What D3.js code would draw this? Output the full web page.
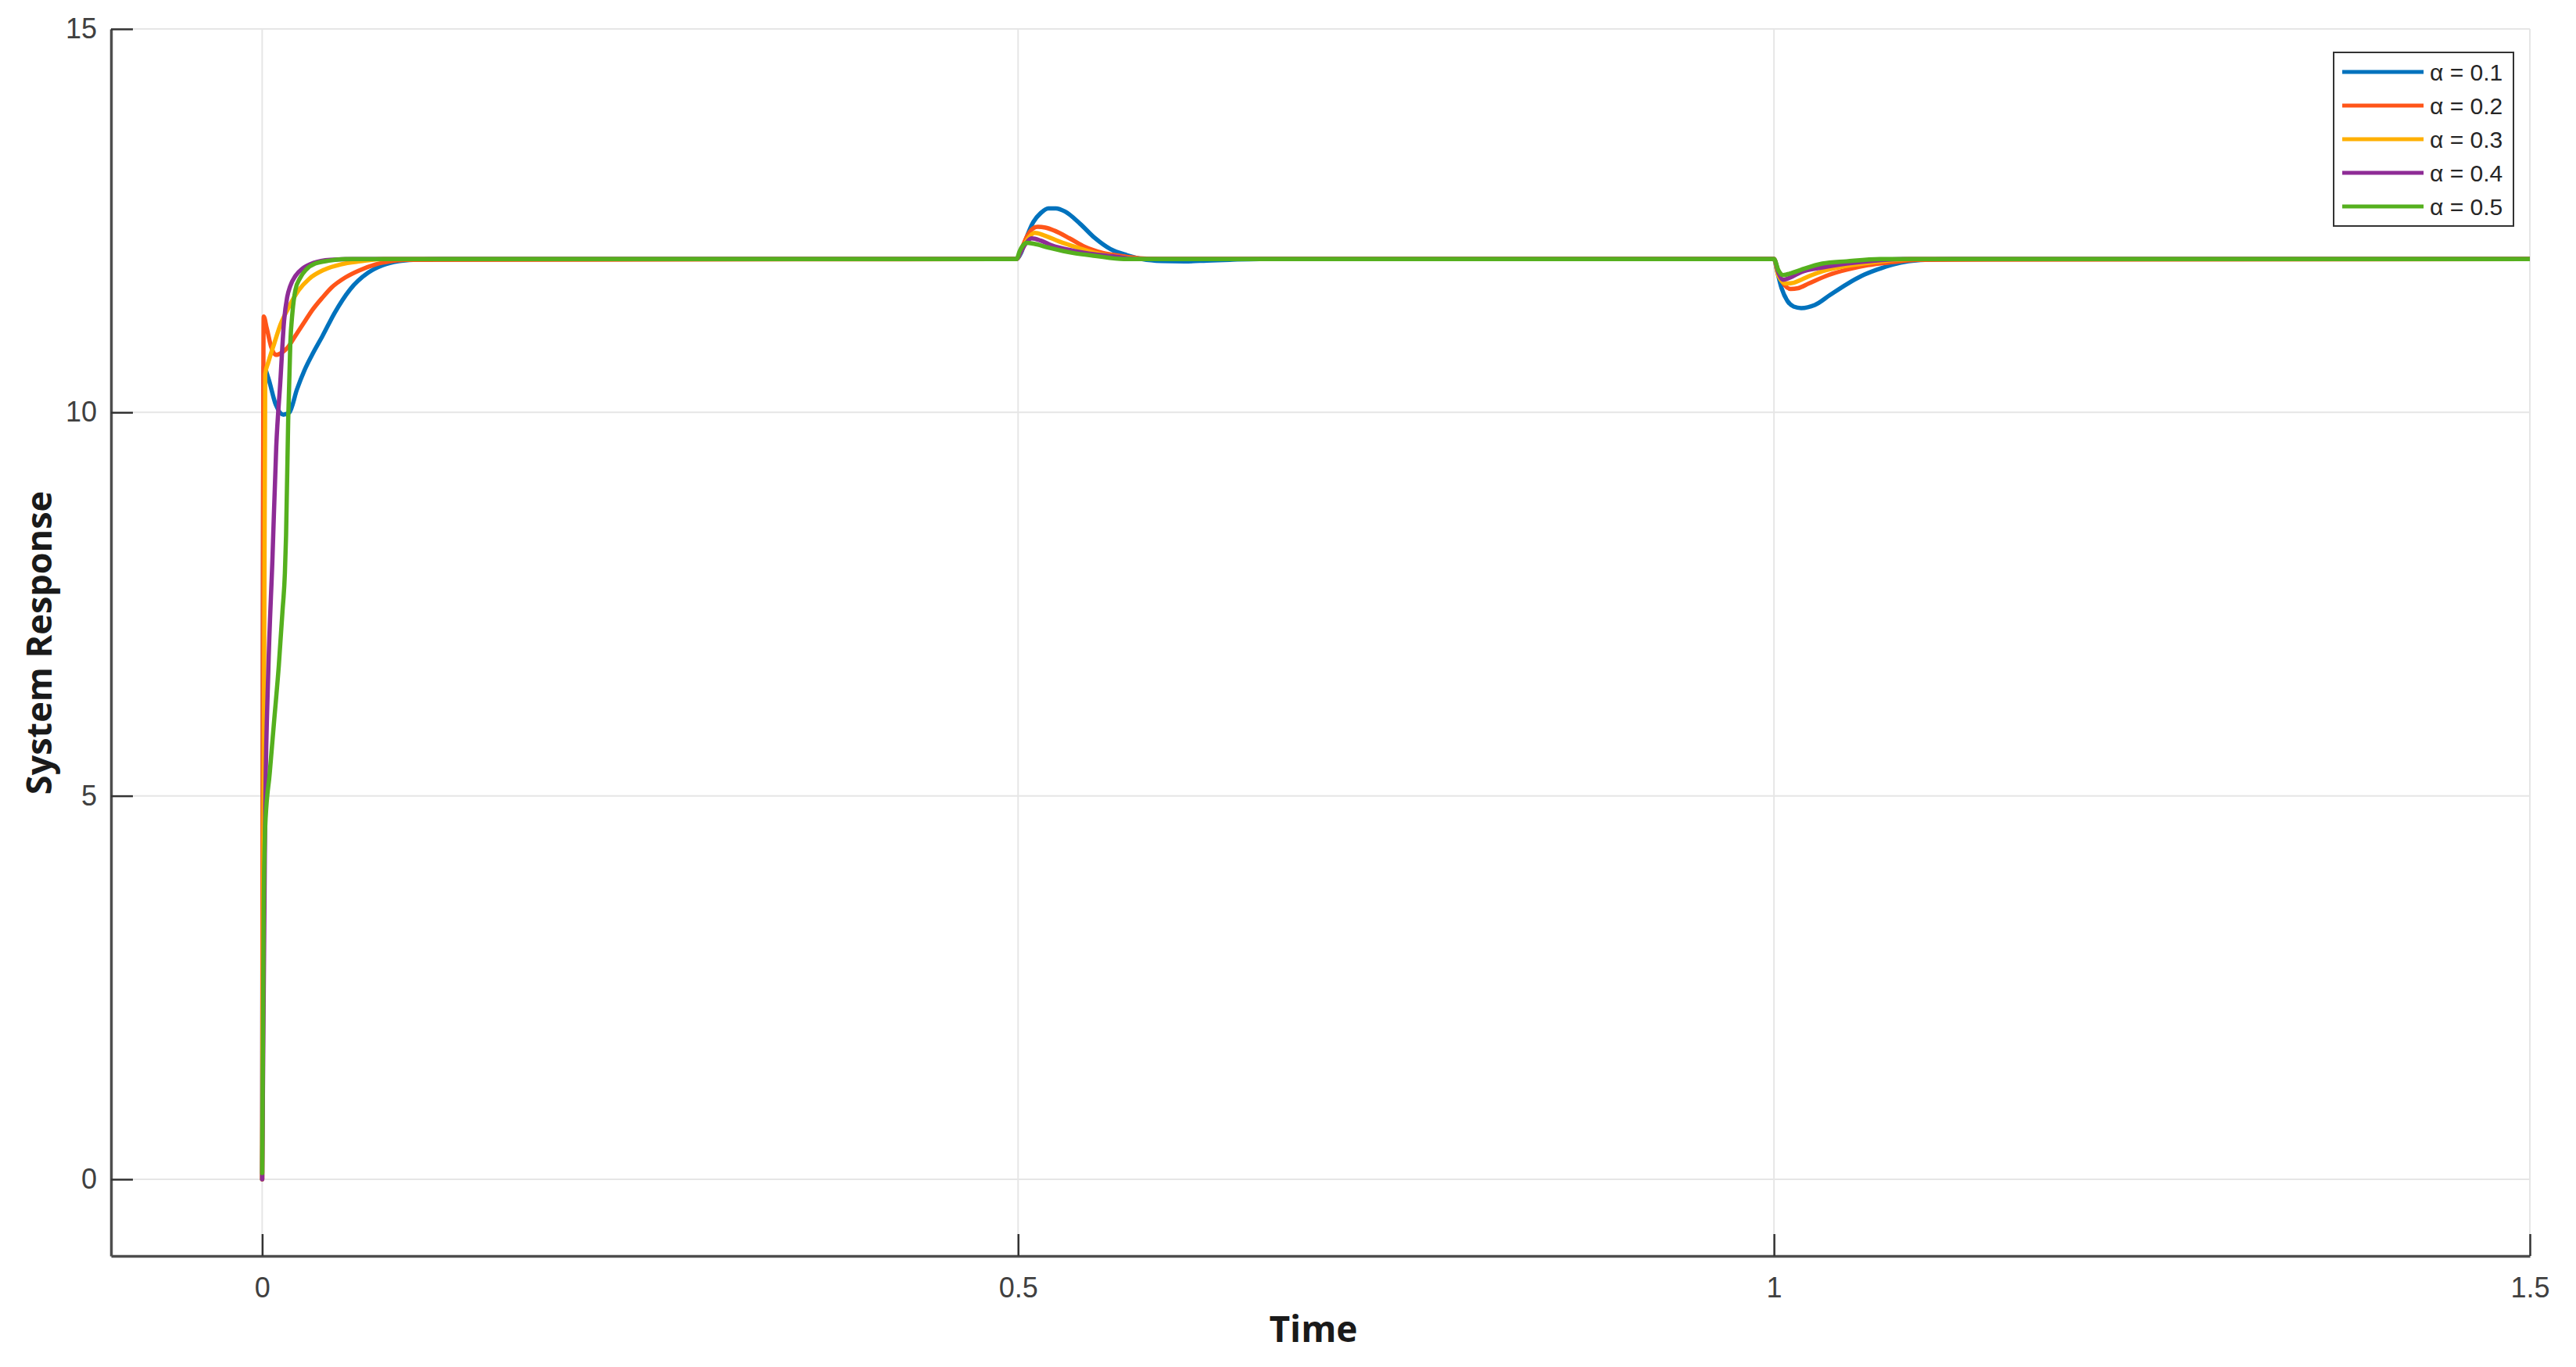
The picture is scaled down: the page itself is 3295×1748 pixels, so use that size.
<!DOCTYPE html>
<html>
<head>
<meta charset="utf-8">
<script src="https://cdn.jsdelivr.net/npm/d3@7"></script>
<style>
html,body{margin:0;padding:0;background:#fff;}
svg{display:block;}
</style>
</head>
<body>
<script>
// ---------- data ----------
const alphas = [0.1, 0.2, 0.3, 0.4, 0.5];
const colors = ["#0072BD", "#FF5519", "#FFB000", "#8E2C96", "#55B01E"];
const xTicks = [0, 0.5, 1, 1.5];
const xTickLabels = ["0", "0.5", "1", "1.5"];
const yTicks = [0, 5, 10, 15];
const yTickLabels = ["0", "5", "10", "15"];

const t1 = [0, 0.001, 0.004, 0.009, 0.014, 0.018, 0.023, 0.028, 0.033, 0.040, 0.048, 0.058, 0.070, 0.080, 0.090, 0.100, 0.12,
  0.499, 0.502, 0.505, 0.510, 0.515, 0.520, 0.525, 0.531, 0.541, 0.551, 0.561, 0.572, 0.582, 0.595, 0.610, 0.625, 0.640, 0.660,
  1.0, 1.002, 1.005, 1.009, 1.013, 1.018, 1.027, 1.037, 1.048, 1.058, 1.068, 1.079, 1.089, 1.10, 1.12, 1.5];
const y1 = [0, 10.6, 10.45, 10.1, 9.97, 10.0, 10.3, 10.55, 10.75, 11.0, 11.3, 11.6, 11.82, 11.92, 11.97, 11.99, 12,
  12, 12.08, 12.25, 12.48, 12.6, 12.66, 12.66, 12.62, 12.46, 12.27, 12.13, 12.05, 12.0, 11.975, 11.97, 11.98, 11.99, 12,
  12, 11.85, 11.62, 11.45, 11.38, 11.36, 11.40, 11.53, 11.67, 11.78, 11.86, 11.93, 11.97, 11.99, 12, 12];

const t2 = [0, 0.001, 0.003, 0.006, 0.009, 0.013, 0.017, 0.022, 0.028, 0.033, 0.040, 0.046, 0.055, 0.064, 0.075, 0.085, 0.095,
  0.499, 0.502, 0.506, 0.510, 0.513, 0.518, 0.524, 0.534, 0.544, 0.556, 0.568, 0.580, 0.595,
  1.0, 1.003, 1.007, 1.011, 1.016, 1.023, 1.036, 1.048, 1.062, 1.079, 1.095, 1.5];
const y2 = [0, 11.25, 11.1, 10.85, 10.75, 10.78, 10.85, 11.0, 11.18, 11.33, 11.5, 11.63, 11.76, 11.85, 11.93, 11.97, 11.99,
  12, 12.12, 12.3, 12.4, 12.42, 12.41, 12.37, 12.27, 12.16, 12.08, 12.04, 12.01, 12,
  12, 11.8, 11.66, 11.61, 11.62, 11.68, 11.79, 11.86, 11.92, 11.96, 11.99, 12];

const t3 = [0, 0.002, 0.004, 0.008, 0.012, 0.017, 0.024, 0.031, 0.041, 0.052, 0.065, 0.080,
  0.499, 0.502, 0.506, 0.511, 0.517, 0.527, 0.539, 0.551, 0.565, 0.582,
  1.0, 1.003, 1.008, 1.013, 1.018, 1.025, 1.032, 1.048, 1.067, 1.09, 1.5];
const y3 = [0, 10.5, 10.65, 10.9, 11.14, 11.35, 11.59, 11.74, 11.86, 11.93, 11.97, 12,
  12, 12.1, 12.25, 12.34, 12.31, 12.23, 12.15, 12.08, 12.03, 12,
  12, 11.78, 11.68, 11.69, 11.73, 11.79, 11.84, 11.91, 11.96, 12, 12];

const t4 = [0, 0.002, 0.004, 0.0068, 0.0093, 0.012, 0.0145, 0.0165, 0.0186, 0.022, 0.027, 0.034, 0.045, 0.06,
  0.499, 0.502, 0.505, 0.509, 0.515, 0.522, 0.536, 0.551, 0.565, 0.578,
  1.0, 1.003, 1.006, 1.011, 1.018, 1.032, 1.048, 1.067, 1.085, 1.5];
const y4 = [0, 4.8, 6.6, 8.1, 9.55, 10.4, 11.2, 11.5, 11.65, 11.78, 11.88, 11.95, 11.99, 12,
  12, 12.1, 12.2, 12.27, 12.24, 12.18, 12.11, 12.06, 12.03, 12.0,
  12, 11.82, 11.73, 11.76, 11.83, 11.89, 11.94, 11.98, 12, 12];

const t5 = [0, 0.001, 0.002, 0.005, 0.008, 0.011, 0.0134, 0.015, 0.0158, 0.0172, 0.0186, 0.020, 0.022, 0.025, 0.029, 0.035, 0.045, 0.055,
  0.499, 0.501, 0.503, 0.506, 0.510, 0.520, 0.536, 0.551, 0.570,
  1.0, 1.003, 1.006, 1.012, 1.018, 1.032, 1.048, 1.07, 1.5];
const y5 = [0.08, 3.5, 4.6, 5.3, 6.0, 6.7, 7.4, 7.9, 8.4, 9.9, 10.9, 11.3, 11.6, 11.75, 11.86, 11.94, 11.98, 12,
  12, 12.1, 12.17, 12.21, 12.2, 12.15, 12.08, 12.04, 12,
  12, 11.85, 11.79, 11.82, 11.86, 11.94, 11.97, 12, 12];

const times = [t1, t2, t3, t4, t5];
const values = [y1, y2, y3, y4, y5];

// ---------- chart ----------
const W = 3295, H = 1748;
const L = 142, R = 3236, T = 37, B = 1606;
const svg = d3.select("body").append("svg").attr("width", W).attr("height", H);

const x = d3.scaleLinear().domain([-0.1, 1.5]).range([L, R]);
const y = d3.scaleLinear().domain([-1, 15]).range([B, T]);

const tickFont = "'Liberation Sans', Arial, sans-serif";
const grid = svg.append("g");
grid.selectAll("line.gx").data(xTicks).join("line")
  .attr("x1", d => x(d)).attr("x2", d => x(d)).attr("y1", T).attr("y2", B)
  .attr("stroke", "#e6e6e6").attr("stroke-width", 2);
grid.selectAll("line.gy").data(yTicks).join("line")
  .attr("class", "gy")
  .attr("x1", L).attr("x2", R).attr("y1", d => y(d)).attr("y2", d => y(d))
  .attr("stroke", "#e6e6e6").attr("stroke-width", 2);

// axes via d3 axis
const xAxis = d3.axisBottom(x).tickValues(xTicks).tickFormat((d, i) => xTickLabels[i])
  .tickSizeInner(-28).tickSizeOuter(0).tickPadding(27);
const gx = svg.append("g").attr("transform", `translate(0,${B})`).call(xAxis);
gx.select(".domain").attr("stroke", "#4d4d4d").attr("stroke-width", 3.5);
gx.selectAll(".tick line").attr("stroke", "#333").attr("stroke-width", 2.5);
gx.selectAll(".tick text").attr("font-family", tickFont).attr("font-size", 36).attr("fill", "#404040");

const yAxis = d3.axisLeft(y).tickValues(yTicks).tickFormat((d, i) => yTickLabels[i])
  .tickSizeInner(-28).tickSizeOuter(0).tickPadding(18);
const gy = svg.append("g").attr("transform", `translate(${L},0)`).call(yAxis);
gy.select(".domain").attr("stroke", "#4d4d4d").attr("stroke-width", 3.5);
gy.selectAll(".tick line").attr("stroke", "#333").attr("stroke-width", 2.5);
gy.selectAll(".tick text").attr("font-family", tickFont).attr("font-size", 36).attr("fill", "#404040");

// lines
const line = d3.line().x(d => x(d[0])).y(d => y(d[1])).curve(d3.curveMonotoneX);
const series = alphas.map((a, i) => ({a, color: colors[i], pts: times[i].map((t, j) => [t, values[i][j]])}));
const clip = svg.append("clipPath").attr("id", "clip").append("rect")
  .attr("x", L).attr("y", T).attr("width", R - L).attr("height", B - T);
svg.append("g").attr("clip-path", "url(#clip)")
  .selectAll("path").data(series).join("path")
  .attr("d", d => line(d.pts))
  .attr("fill", "none").attr("stroke", d => d.color)
  .attr("stroke-width", 5.5).attr("stroke-linejoin", "round").attr("stroke-linecap", "round");

// axis titles
const titleFont = "'Open Sans', 'DejaVu Sans', sans-serif";
svg.append("text").attr("x", 1680).attr("y", 1716).attr("text-anchor", "middle")
  .attr("font-family", titleFont).attr("font-weight", 700).attr("font-size", 46).attr("fill", "#1a1a1a")
  .text("Time");
svg.append("text").attr("transform", "translate(66,822) rotate(-90)").attr("text-anchor", "middle")
  .attr("font-family", titleFont).attr("font-weight", 700).attr("font-size", 45).attr("fill", "#1a1a1a")
  .text("System Response");

// legend
const lg = svg.append("g");
lg.append("rect").attr("x", 2985).attr("y", 67).attr("width", 230).attr("height", 222)
  .attr("fill", "#fff").attr("stroke", "#333").attr("stroke-width", 2);
const items = lg.selectAll("g.item").data(series).join("g").attr("class", "item")
  .attr("transform", (d, i) => `translate(0,${92 + i * 43})`);
items.append("line").attr("x1", 2996).attr("x2", 3100).attr("y1", 0).attr("y2", 0)
  .attr("stroke", d => d.color).attr("stroke-width", 5);
items.append("text").attr("x", 3108).attr("y", 0).attr("dy", "0.35em")
  .attr("font-family", tickFont).attr("font-size", 30).attr("fill", "#262626")
  .text(d => `α = ${d.a}`);
</script>
</body>
</html>
